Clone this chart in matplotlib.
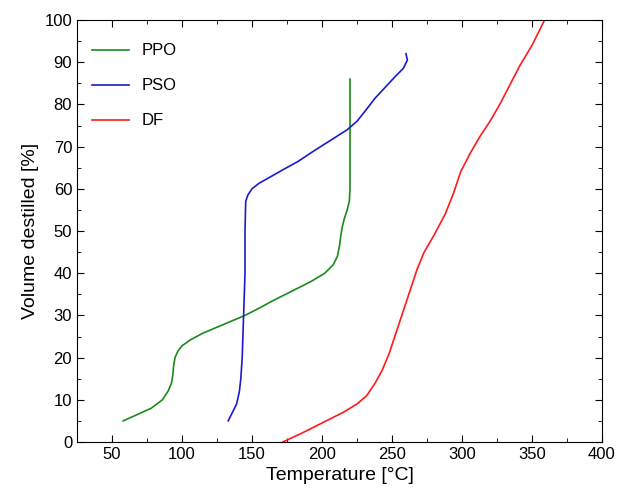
import matplotlib
matplotlib.use("Agg")
import matplotlib.pyplot as plt
from matplotlib.ticker import MultipleLocator
plt.rcParams['font.family'] = ['Liberation Sans', 'DejaVu Sans']

ppo_x = [58,68,78,86,90,92.5,93.5,94,95,97,100,106,115,125,135,145,155,165,180,192,202,208,211,212.5,213.5,214.5,216,218,219.5,220,220]
ppo_y = [5,6.5,8,10,12,14,16,18,20,21.5,22.8,24.2,25.8,27.2,28.6,30,31.7,33.5,36,38,40,42,44,46.5,49,51,53,55,57,60,86]
pso_x = [133,136,139,141,142,143,144,145,145,145.5,147,150,155,163,172,183,192,200,210,218,225,231,238,245,252,258,261,260]
pso_y = [5,7,9,12,15,20,30,40,50,57,58.5,60,61.3,62.8,64.5,66.5,68.5,70.2,72.3,74,76,78.5,81.5,84,86.5,88.5,90.5,92]
df_x = [172,185,200,215,225,232,238,243,248,252,256,260,264,268,273,280,288,294,299,306,313,320,327,334,341,350,359]
df_y = [0,2,4.5,7,9,11,14,17,21,25,29,33,37,41,45,49,54,59,64,68.5,72.5,76,80,84.5,89,94,100]

fig = plt.figure(figsize=(6.19, 4.99), dpi=100)
ax = fig.add_axes([77/619, 57/499, 525/619, 422/499])
ax.plot(ppo_x, ppo_y, color='#1a8a1a', lw=1.2, label='PPO')
ax.plot(pso_x, pso_y, color='#1a1acc', lw=1.2, label='PSO')
ax.plot(df_x, df_y, color='#ff1a1a', lw=1.2, label='DF')
ax.set_xlim(25, 400)
ax.set_ylim(0, 100)
ax.xaxis.set_major_locator(MultipleLocator(50))
ax.xaxis.set_minor_locator(MultipleLocator(25))
ax.yaxis.set_major_locator(MultipleLocator(10))
ax.yaxis.set_minor_locator(MultipleLocator(5))
ax.tick_params(which='both', direction='in', top=True, right=True, labelsize=12)
ax.tick_params(which='major', length=5)
ax.tick_params(which='minor', length=3)
ax.set_xlabel('Temperature [°C]', fontsize=14)
ax.set_ylabel('Volume destilled [%]', fontsize=14)
ax.legend(loc='upper left', frameon=False, fontsize=12, bbox_to_anchor=(0.0, 0.98), labelspacing=1.2, handlelength=2.2)
fig.savefig('out.png', dpi=100)
